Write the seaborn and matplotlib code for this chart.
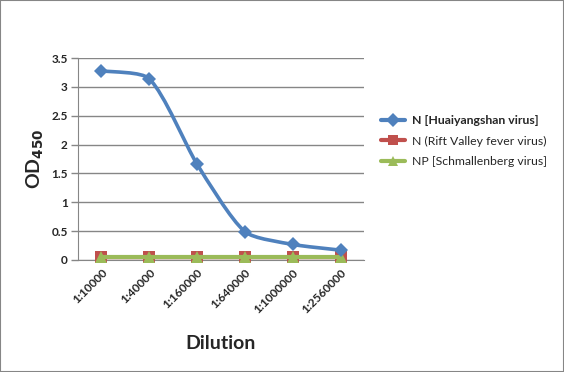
import seaborn as sns
import matplotlib.pyplot as plt
import numpy as np
import pandas as pd
from matplotlib.path import Path
from matplotlib.patches import PathPatch, Rectangle
from matplotlib.lines import Line2D
from matplotlib.ticker import FuncFormatter, MultipleLocator


dilutions = ["1:10000", "1:40000", "1:160000", "1:640000", "1:1000000", "1:2560000"]
huaiyangshan = [3.28, 3.14, 1.66, 0.49, 0.27, 0.17]
rift_valley = [0.045, 0.045, 0.045, 0.045, 0.045, 0.045]
schmallenberg = [0.05, 0.05, 0.05, 0.05, 0.05, 0.05]

series_names = ["N [Huaiyangshan virus]", "N (Rift Valley fever virus)", "NP [Schmallenberg virus]"]
colors = ["#4F81BD", "#C0504D", "#9BBB59"]
markers = ["D", "s", "^"]


def smooth_path(ax, xs, ys, tension=0.22):
    '''
    Excel-like smoothed line, worked out in screen space so the
    tangent handles scale with the segment length (no overshoot)
    '''
    pts = ax.transData.transform(np.column_stack([xs, ys]).astype(float))
    n = len(pts)
    tangents = []
    for i in range(n):
        d = pts[min(i + 1, n - 1)] - pts[max(i - 1, 0)]
        tangents.append(d / np.hypot(*d))
    verts = [pts[0]]
    codes = [Path.MOVETO]
    for i in range(n - 1):
        seg = np.hypot(*(pts[i + 1] - pts[i])) * tension
        verts += [pts[i] + tangents[i] * seg, pts[i + 1] - tangents[i + 1] * seg, pts[i + 1]]
        codes += [Path.CURVE4] * 3
    verts = ax.transData.inverted().transform(np.array(verts))
    return Path(verts, codes)


sns.set_style("white")
plt.rcParams['font.family'] = ['Lato', 'DejaVu Sans']

fig = plt.figure(figsize=(5.64, 3.72), dpi=100)
ax = fig.add_axes([77.5 / 564, 1 - 260 / 372, 287 / 564, 202 / 372])

x = np.arange(len(dilutions))
df = pd.DataFrame({"x": x, "rvf": rift_valley, "sbv": schmallenberg, "hys": huaiyangshan})

ax.set_xlim(-0.5, len(dilutions) - 0.5)
ax.set_ylim(0, 3.5)

# flat series, straight lines (markers may hang below the axis like in Excel)
sns.lineplot(data=df, x="x", y="rvf", ax=ax, color=colors[1], lw=2.4, marker=markers[1],
             markersize=8.5, markeredgewidth=0, zorder=3, clip_on=False)
sns.lineplot(data=df, x="x", y="sbv", ax=ax, color=colors[2], lw=3.0, marker=markers[2],
             markersize=8.5, markeredgewidth=0, zorder=4, clip_on=False)

# smoothed main series
ax.add_patch(PathPatch(smooth_path(ax, x, huaiyangshan), facecolor="none", edgecolor=colors[0],
                       lw=2.6, zorder=5, capstyle="round"))
sns.lineplot(data=df, x="x", y="hys", ax=ax, color=colors[0], lw=0, marker=markers[0],
             markersize=7, markeredgewidth=0, zorder=6)

ax.set_xlim(-0.5, len(dilutions) - 0.5)
ax.set_ylim(0, 3.5)
ax.yaxis.set_major_locator(MultipleLocator(0.5))
ax.yaxis.set_major_formatter(FuncFormatter(lambda v, p: f"{v:g}"))
ax.set_xticks(x)
ax.set_xticklabels(dilutions, rotation=45, ha="right", rotation_mode="anchor",
                   fontsize=8.5, fontweight="bold")
for lab in ax.get_yticklabels():
    lab.set_fontsize(8.5)
    lab.set_fontweight("bold")

ax.grid(axis="y", color="#868686", lw=1)
ax.set_axisbelow(True)
for side in ["top", "right"]:
    ax.spines[side].set_visible(False)
ax.spines["left"].set_color("#868686")
ax.spines["bottom"].set_color("#868686")
ax.tick_params(axis="y", length=5, width=1, color="#868686", pad=2, left=True)
ax.tick_params(axis="x", length=0, pad=5)

ax.set_xlabel("Dilution", fontsize=14, fontweight="bold", labelpad=14)
ax.set_ylabel(r"OD$_{\mathbf{450}}$", fontsize=14, fontweight="bold", labelpad=4)

handles = [Line2D([], [], color=c, lw=3, marker=m, markersize=7, markeredgewidth=0)
           for c, m in zip(colors, markers)]
leg = fig.legend(handles, series_names, loc="upper left", bbox_to_anchor=(381 / 564, 1 - 115 / 372),
                 frameon=False, fontsize=8.8, handlelength=2.0, handletextpad=0.5,
                 labelspacing=0.78, borderpad=0, borderaxespad=0)
leg.get_texts()[0].set_fontweight("bold")

fig.patches.append(Rectangle((0, 0), 1, 1, transform=fig.transFigure, fill=False,
                             edgecolor="#868686", lw=1.5))

fig.savefig("out.png", dpi=100)
